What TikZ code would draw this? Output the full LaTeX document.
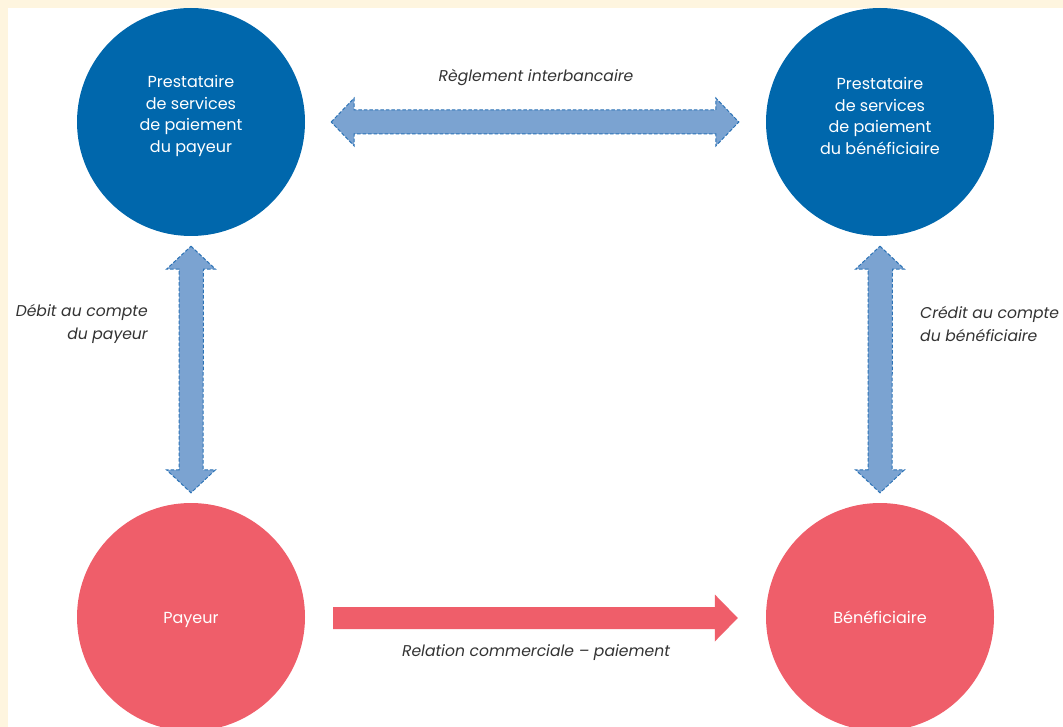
\documentclass[tikz,border=0pt]{standalone}
\usepackage{fontspec}
\setmainfont{Poppins}
\usetikzlibrary{calc}
\definecolor{pspblue}{HTML}{0067AC}
\definecolor{arrowblue}{HTML}{7BA3D1}
\definecolor{dashblue}{HTML}{2C73B6}
\definecolor{payred}{HTML}{EF5E6A}
\definecolor{cream}{HTML}{FEF5DF}
\definecolor{labelgray}{HTML}{333333}
\tikzset{
  psp/.style={circle, fill=pspblue, draw=none, minimum size=228pt, inner sep=0pt},
  party/.style={circle, fill=payred, draw=none, minimum size=228pt, inner sep=0pt},
  circtext/.style={text=white, align=center, font=\fontsize{16}{21.7}\selectfont, inner sep=0pt},
  lbl/.style={text=labelgray, font=\fontsize{15.6}{23}\selectfont\itshape, inner sep=0pt},
  blockarrow/.style={fill=arrowblue, draw=dashblue, line width=1pt, dash pattern=on 3.5pt off 2pt, line join=miter},
  redarrow/.style={fill=payred, draw=none}
}
\newcommand\hdarrow[3]{%
  \path[#1] (#2) -- ++(23,-24) -- ++(0,12) -- ($(#3)+(-23,-12)$) -- ++(0,-12) -- (#3)
     -- ++(-23,24) -- ++(0,-12) -- ($(#2)+(23,12)$) -- ++(0,12) -- cycle;}
\newcommand\vdarrow[3]{%
  \path[#1] (#2) -- ++(24.5,23) -- ++(-12,0) -- ($(#3)+(12,-23)$) -- ++(12.5,0) -- (#3)
     -- ++(-24.5,-23) -- ++(12.5,0) -- ($(#2)+(-12,23)$) -- ++(-12.5,0) -- cycle;}
\begin{document}
\begin{tikzpicture}[x=1pt,y=-1pt]
\useasboundingbox (0,0) rectangle (1063,727);
\fill[cream] (0,0) rectangle (1063,727);
\fill[white] (8,8) rectangle (1063,727);
\begin{scope}
  \clip (8,8) rectangle (1063,727);
  \node[psp] (pspA) at (191,122) {};
  \node[psp] (pspB) at (880,122) {};
  \node[party] (payeur) at (191,617) {};
  \node[party] (benef) at (880,617) {};
\end{scope}
\node[circtext] (tA) at (191,116) {Prestataire\\de services\\de paiement\\du payeur};
\node[circtext] (tB) at (880,116) {Prestataire\\de services\\de paiement\\du bénéficiaire};
\node[circtext, anchor=base] (tP) at (191,623) {Payeur};
\node[circtext, anchor=base] (tBn) at (880,623) {Bénéficiaire};
% arrows
\coordinate (h1) at ($(pspA.east)+(26,0)$);
\coordinate (h2) at ($(pspB.west)+(-27,0)$);
\hdarrow{blockarrow}{h1}{h2}
\coordinate (v1) at ($(pspA.south)+(0,10)$);
\coordinate (v2) at ($(payeur.north)+(0,-10)$);
\vdarrow{blockarrow}{v1}{v2}
\coordinate (w1) at ($(pspB.south)+(0,10)$);
\coordinate (w2) at ($(benef.north)+(0,-10)$);
\vdarrow{blockarrow}{w1}{w2}
\coordinate (r1) at ($(payeur.east)+(28,1)$);
\coordinate (r2) at ($(benef.west)+(-28,1)$);
\path[redarrow] (r1) -- ++(0,-11) -- ($(r2)+(-23,-11)$) -- ++(0,-12.5) -- (r2) -- ++(-23,23.5) -- ++(0,-12.5) -- ($(r1)+(0,11)$) -- cycle;
% labels
\node[lbl] (lR) at (536,78) {Règlement interbancaire};
\node[lbl, align=right, anchor=east] (lD) at (148,324) {Débit au compte\\du payeur};
\node[lbl, align=left, anchor=west] (lC) at (920,324) {Crédit au compte\\du bénéficiaire};
\node[lbl] (lRel) at (536,653) {Relation commerciale – paiement};
\end{tikzpicture}
\end{document}
